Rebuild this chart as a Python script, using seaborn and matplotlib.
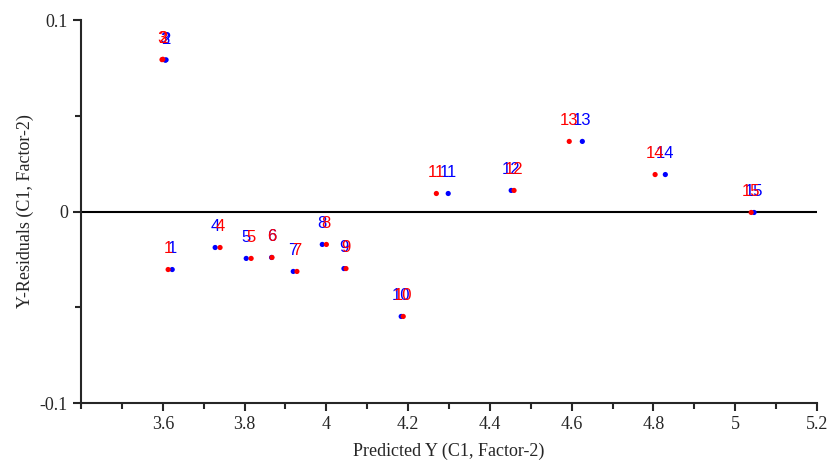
import pandas as pd
import matplotlib
matplotlib.use("Agg")
import matplotlib.pyplot as plt
from matplotlib.ticker import MultipleLocator
import seaborn as sns

# sample numbers
samples = [1, 2, 3, 4, 5, 6, 7, 8, 9, 10, 11, 12, 13, 14, 15]

# blue series (calibration)
pred_blue = [3.623, 3.608, 3.606, 3.728, 3.804, 3.866, 3.919, 3.990, 4.043, 4.183, 4.298, 4.452, 4.626, 4.829, 5.046]
res_blue = [-0.0303, 0.0792, 0.0790, -0.0188, -0.0245, -0.0240, -0.0313, -0.0172, -0.0298, -0.0548, 0.0094, 0.0110, 0.0366, 0.0193, -0.0005]

# red series (validation)
pred_red = [3.613, 3.600, 3.598, 3.740, 3.816, 3.867, 3.928, 4.000, 4.048, 4.188, 4.269, 4.459, 4.594, 4.804, 5.039]
res_red = [-0.0303, 0.0795, 0.0793, -0.0188, -0.0245, -0.0240, -0.0313, -0.0172, -0.0298, -0.0548, 0.0094, 0.0110, 0.0366, 0.0193, -0.0005]

df = pd.concat([
    pd.DataFrame({"sample": samples, "pred": pred_blue, "res": res_blue, "set": "blue"}),
    pd.DataFrame({"sample": samples, "pred": pred_red, "res": res_red, "set": "red"}),
], ignore_index=True)

sns.set_style("ticks")
plt.rcParams["font.family"] = ["Liberation Serif", "DejaVu Serif"]

fig = plt.figure(figsize=(8.32, 4.62), dpi=100)
ax = fig.add_axes([0.0974, 0.1277, 0.8846, 0.829])

palette = {"blue": "#0000ff", "red": "#ff0000"}
sns.scatterplot(data=df, x="pred", y="res", hue="set", palette=palette,
                s=14, linewidth=0, legend=False, ax=ax, zorder=3)

# sample labels above each point
for _, row in df.iterrows():
    ax.annotate(str(row["sample"]), (row["pred"], row["res"]),
                xytext=(0, 15), textcoords="offset points", ha="center", va="center",
                color=palette[row["set"]], fontsize=12,
                family=["Liberation Sans", "DejaVu Sans"],
                zorder=4 if row["set"] == "red" else 3)

ax.axhline(0, color="black", linewidth=1.5, zorder=2)

ax.set_xlim(3.4, 5.2)
ax.set_ylim(-0.1, 0.1)
ax.xaxis.set_minor_locator(MultipleLocator(0.1))
ax.yaxis.set_minor_locator(MultipleLocator(0.05))
ax.set_xticks([3.6, 3.8, 4.0, 4.2, 4.4, 4.6, 4.8, 5.0, 5.2])
ax.set_xticklabels(["3.6", "3.8", "4", "4.2", "4.4", "4.6", "4.8", "5", "5.2"])
ax.set_yticks([-0.1, 0, 0.1])
ax.set_yticklabels(["-0.1", "0", "0.1"])

ax.tick_params(axis="both", which="major", length=6, width=1.5, labelsize=13, direction="out")
ax.tick_params(axis="both", which="minor", length=4, width=1.5, direction="out")

for side in ["left", "bottom"]:
    ax.spines[side].set_linewidth(1.5)
sns.despine(ax=ax)

ax.set_xlabel("Predicted Y (C1, Factor-2)", fontsize=13, labelpad=7)
ax.set_ylabel("Y-Residuals (C1, Factor-2)", fontsize=13, labelpad=4)

fig.savefig("out.png", dpi=100)
